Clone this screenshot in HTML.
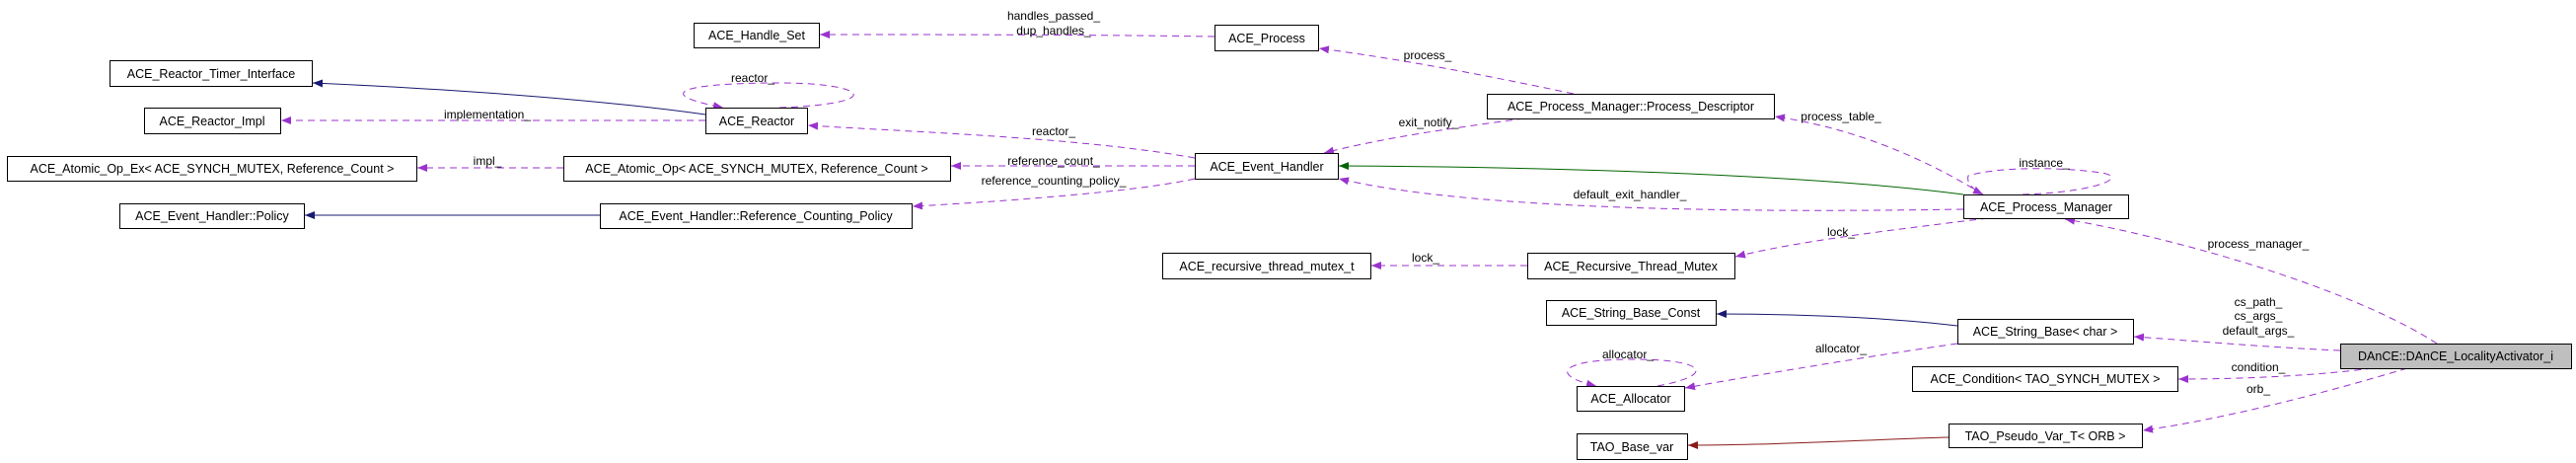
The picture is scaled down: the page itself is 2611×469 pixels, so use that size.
<!DOCTYPE html>
<html><head><meta charset="utf-8"><style>
html,body{margin:0;padding:0;background:#fff;}
svg{display:block;}
text{font-family:"Liberation Sans",sans-serif;}
.n{font-size:12.5px;fill:#000;text-anchor:middle;}
.l{font-size:12px;fill:#000;text-anchor:middle;}
rect{fill:#fff;stroke:#000;stroke-width:1;}
.d{fill:none;stroke:#9a32cd;stroke-width:1;stroke-dasharray:7,5;marker-end:url(#mp);}
.b{fill:none;stroke:#191970;stroke-width:1;marker-end:url(#mb);}
.g{fill:none;stroke:#006400;stroke-width:1;marker-end:url(#mg);}
.r{fill:none;stroke:#8b1a1a;stroke-width:1;marker-end:url(#mr);}
</style></head><body>
<svg width="2611" height="469" viewBox="0 0 2611 469" xmlns="http://www.w3.org/2000/svg">
<defs>
<marker id="mp" markerWidth="10" markerHeight="8" refX="10" refY="4" orient="auto" markerUnits="userSpaceOnUse"><path d="M0,0 L10,4 L0,8 Z" fill="#9a32cd"/></marker>
<marker id="mb" markerWidth="10" markerHeight="8" refX="10" refY="4" orient="auto" markerUnits="userSpaceOnUse"><path d="M0,0 L10,4 L0,8 Z" fill="#191970"/></marker>
<marker id="mg" markerWidth="10" markerHeight="8" refX="10" refY="4" orient="auto" markerUnits="userSpaceOnUse"><path d="M0,0 L10,4 L0,8 Z" fill="#006400"/></marker>
<marker id="mr" markerWidth="10" markerHeight="8" refX="10" refY="4" orient="auto" markerUnits="userSpaceOnUse"><path d="M0,0 L10,4 L0,8 Z" fill="#8b1a1a"/></marker>
</defs>

<!-- edges -->
<path class="d" d="M1231,37 C1100,35 950,35 831,35"/>
<path class="d" d="M1595,95 C1500,75 1420,60 1337,49"/>
<path class="b" d="M715,116 C600,100 450,90 317,84"/>
<path class="d" d="M715,122 L285,122"/>
<path class="d" d="M790,109 C900,105 880,84 790,84 C690,84 660,95 733,109"/>
<path class="d" d="M1211,160 C1100,140 950,135 819,127"/>
<path class="d" d="M1545,120 C1470,130 1400,140 1342,155"/>
<path class="d" d="M571,170 L423,170"/>
<path class="d" d="M1211,168 L964,168"/>
<path class="d" d="M1211,181 C1150,195 1000,205 925,209"/>
<path class="b" d="M608,218 L309,218"/>
<path class="g" d="M1990,197 C1900,185 1700,170 1357,168"/>
<path class="d" d="M1990,212 C1800,215 1500,215 1357,181"/>
<path class="d" d="M2010,197 C1950,160 1880,130 1799,118"/>
<path class="d" d="M2050,197 C2120,195 2160,180 2130,175 C2080,168 2020,170 1995,178 C1993,186 2000,192 2010,197"/>
<path class="d" d="M2015,221 C1900,235 1820,245 1759,260"/>
<path class="d" d="M1548,269 L1390,269"/>
<path class="b" d="M1984,330 C1900,320 1800,318 1740,318"/>
<path class="d" d="M1984,348 C1900,360 1780,380 1708,393"/>
<path class="d" d="M1680,391 C1740,380 1730,364 1655,364 C1580,364 1570,380 1618,391"/>
<path class="d" d="M2470,348 C2380,290 2200,240 2093,222"/>
<path class="d" d="M2372,355 C2300,352 2220,345 2163,341"/>
<path class="d" d="M2405,373 C2350,380 2280,384 2208,384"/>
<path class="d" d="M2440,373 C2350,400 2250,425 2172,436"/>
<path class="r" d="M1975,443 C1900,445 1800,451 1711,451"/>

<!-- nodes -->
<rect x="703.5" y="23.5" width="127" height="25"/><text class="n" x="767" y="40">ACE_Handle_Set</text>
<rect x="1231.5" y="25.5" width="105" height="26"/><text class="n" x="1284" y="43">ACE_Process</text>
<rect x="111.5" y="61.5" width="205" height="26"/><text class="n" x="214" y="79">ACE_Reactor_Timer_Interface</text>
<rect x="146.5" y="109.5" width="138" height="26"/><text class="n" x="215" y="127">ACE_Reactor_Impl</text>
<rect x="715.5" y="109.5" width="103" height="26"/><text class="n" x="767" y="127">ACE_Reactor</text>
<rect x="1507.5" y="95.5" width="291" height="25"/><text class="n" x="1653" y="112">ACE_Process_Manager::Process_Descriptor</text>
<rect x="7.5" y="158.5" width="415" height="25"/><text class="n" x="215" y="175">ACE_Atomic_Op_Ex&lt; ACE_SYNCH_MUTEX, Reference_Count &gt;</text>
<rect x="571.5" y="158.5" width="392" height="25"/><text class="n" x="767" y="175">ACE_Atomic_Op&lt; ACE_SYNCH_MUTEX, Reference_Count &gt;</text>
<rect x="1211.5" y="155.5" width="145" height="26"/><text class="n" x="1284" y="173">ACE_Event_Handler</text>
<rect x="121.5" y="206.5" width="187" height="25"/><text class="n" x="215" y="223">ACE_Event_Handler::Policy</text>
<rect x="608.5" y="206.5" width="316" height="25"/><text class="n" x="766" y="223">ACE_Event_Handler::Reference_Counting_Policy</text>
<rect x="1990.5" y="197.5" width="167" height="24"/><text class="n" x="2074" y="214">ACE_Process_Manager</text>
<rect x="1178.5" y="256.5" width="211" height="26"/><text class="n" x="1284" y="274">ACE_recursive_thread_mutex_t</text>
<rect x="1548.5" y="256.5" width="210" height="26"/><text class="n" x="1653" y="274">ACE_Recursive_Thread_Mutex</text>
<rect x="1567.5" y="304.5" width="172" height="25"/><text class="n" x="1653" y="321">ACE_String_Base_Const</text>
<rect x="1984.5" y="323.5" width="178" height="25"/><text class="n" x="2073" y="340">ACE_String_Base&lt; char &gt;</text>
<rect x="2372.5" y="348.5" width="234" height="25" style="fill:#bfbfbf"/><text class="n" x="2489" y="365">DAnCE::DAnCE_LocalityActivator_i</text>
<rect x="1598.5" y="391.5" width="109" height="25"/><text class="n" x="1653" y="408">ACE_Allocator</text>
<rect x="1938.5" y="371.5" width="269" height="25"/><text class="n" x="2073" y="388">ACE_Condition&lt; TAO_SYNCH_MUTEX &gt;</text>
<rect x="1598.5" y="439.5" width="112" height="26"/><text class="n" x="1654" y="457">TAO_Base_var</text>
<rect x="1975.5" y="429.5" width="196" height="24"/><text class="n" x="2073" y="446">TAO_Pseudo_Var_T&lt; ORB &gt;</text>

<!-- labels -->
<text class="l" x="1068" y="20">handles_passed_</text>
<text class="l" x="1068" y="35">dup_handles_</text>
<text class="l" x="1447" y="60">process_</text>
<text class="l" x="763" y="83">reactor_</text>
<text class="l" x="494" y="120">implementation_</text>
<text class="l" x="1448" y="128">exit_notify_</text>
<text class="l" x="1068" y="137">reactor_</text>
<text class="l" x="494" y="167">impl_</text>
<text class="l" x="1068" y="167">reference_count_</text>
<text class="l" x="1068" y="187">reference_counting_policy_</text>
<text class="l" x="1652" y="201">default_exit_handler_</text>
<text class="l" x="1866" y="122">process_table_</text>
<text class="l" x="2072" y="169">instance_</text>
<text class="l" x="1866" y="239">lock_</text>
<text class="l" x="1445" y="265">lock_</text>
<text class="l" x="2289" y="251">process_manager_</text>
<text class="l" x="2289" y="310">cs_path_</text>
<text class="l" x="2289" y="324">cs_args_</text>
<text class="l" x="2289" y="339">default_args_</text>
<text class="l" x="1650" y="363">allocator_</text>
<text class="l" x="1866" y="357">allocator_</text>
<text class="l" x="2289" y="376">condition_</text>
<text class="l" x="2289" y="398">orb_</text>
</svg>
</body></html>
